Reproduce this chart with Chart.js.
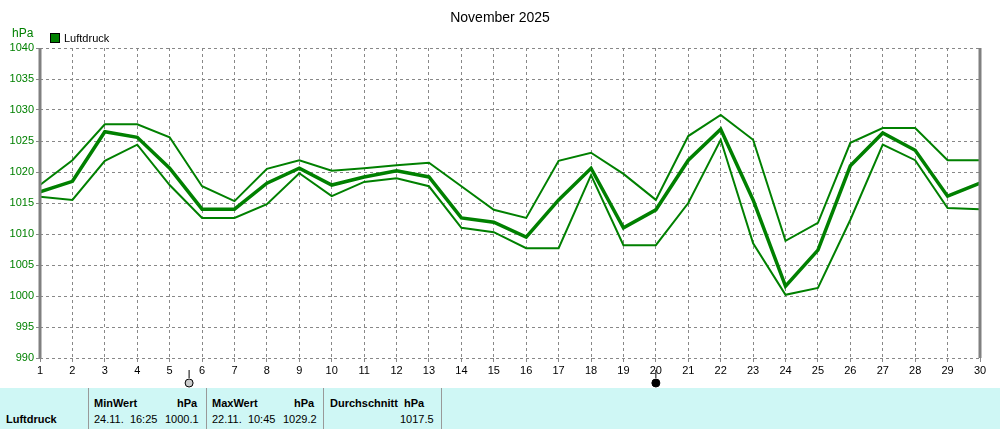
<!DOCTYPE html><html><head><meta charset="utf-8">
<script src="https://cdn.jsdelivr.net/npm/chart.js@4"></script>
<style>
body{margin:0;width:1000px;height:429px;background:#fff;font-family:"Liberation Sans",Arial,sans-serif;overflow:hidden}
#wrap{position:relative;width:1000px;height:388px}
#tbl{position:absolute;left:0;top:388px;width:1000px;height:41px;background:#cff7f5;font-size:11px}
.c{position:absolute;top:0;height:41px;border-right:1px solid #999}
.c b{position:absolute;top:9px}
.c span{position:absolute;top:25px}
</style></head><body>
<div id="wrap"><canvas id="ch" width="1000" height="388"></canvas></div>
<div id="tbl">
<div class="c" style="left:0;width:88px"><b style="left:6px;top:25px">Luftdruck</b></div>
<div class="c" style="left:89px;width:117px"><b style="left:5px">MinWert</b><b style="left:88px">hPa</b><span style="left:5px">24.11.&nbsp; 16:25</span><span style="left:76px">1000.1</span></div>
<div class="c" style="left:207px;width:116px"><b style="left:5px">MaxWert</b><b style="left:87px">hPa</b><span style="left:5px">22.11.&nbsp; 10:45</span><span style="left:76px">1029.2</span></div>
<div class="c" style="left:324px;width:117px"><b style="left:6px">Durchschnitt&nbsp; hPa</b><span style="left:76px">1017.5</span></div>
</div>
<script>
const days=[1,2,3,4,5,6,7,8,9,10,11,12,13,14,15,16,17,18,19,20,21,22,23,24,25,26,27,28,29,30];
const maxVals=[1017.9,1021.9,1027.7,1027.7,1025.6,1017.7,1015.3,1020.5,1021.9,1020.2,1020.6,1021.1,1021.5,1017.7,1013.9,1012.6,1021.8,1023.1,1019.7,1015.5,1025.8,1029.2,1025.2,1008.9,1011.8,1024.7,1027.1,1027.1,1021.9,1021.9];
const avgVals=[1016.8,1018.5,1026.5,1025.6,1020.6,1014.0,1014.0,1018.2,1020.6,1017.9,1019.2,1020.2,1019.2,1012.6,1011.9,1009.5,1015.5,1020.6,1011.0,1013.9,1021.9,1026.9,1015.5,1001.6,1007.4,1021.0,1026.3,1023.5,1016.1,1018.2];
const minVals=[1016.0,1015.5,1021.8,1024.4,1017.9,1012.6,1012.6,1014.8,1019.8,1016.1,1018.4,1019.0,1017.7,1011.0,1010.3,1007.7,1007.7,1019.5,1008.2,1008.2,1015.0,1025.2,1008.5,1000.2,1001.3,1012.3,1024.4,1021.9,1014.2,1014.0];
const moonDays=[5.6,20.0];
const mk=(v,w)=>({data:days.map((d,i)=>({x:d,y:v[i]})),borderColor:'#008000',borderWidth:w,pointRadius:0,fill:false,tension:0});
const extra={id:'extra',afterDraw(c){const x=c.scales.x,y=c.scales.y,g=c.ctx;g.save();
g.fillStyle='#000';g.font='14px "Liberation Sans"';g.textAlign='center';g.fillText('November 2025',500,22);
g.fillStyle='#008000';g.font='12px "Liberation Sans"';g.textAlign='left';g.fillText('hPa',12,37);
g.fillStyle='#008000';g.fillRect(50,33,10,10);g.strokeStyle='#000';g.lineWidth=1;g.strokeRect(50.5,33.5,9,9);
g.fillStyle='#000';g.font='11px "Liberation Sans"';g.fillText('Luftdruck',64,42);
g.strokeStyle='#808080';g.lineWidth=3;g.beginPath();g.moveTo(x.left,y.top);g.lineTo(x.left,y.bottom);g.moveTo(x.right,y.top);g.lineTo(x.right,y.bottom);g.stroke();
moonDays.forEach((d,i)=>{const px=x.getPixelForValue(d);g.strokeStyle='#000';g.lineWidth=1;g.beginPath();g.moveTo(px,y.bottom+12);g.lineTo(px,y.bottom+20);g.stroke();
g.beginPath();g.arc(px,y.bottom+25,4,0,Math.PI*2);g.fillStyle=i==0?'#ccc':'#000';g.fill();g.stroke();});
g.restore();}};
new Chart(document.getElementById('ch'),{type:'line',data:{datasets:[mk(maxVals,2),mk(minVals,2),mk(avgVals,3.5)]},
options:{responsive:false,animation:false,events:[],layout:{padding:{left:0,right:20,top:48,bottom:0}},
plugins:{legend:{display:false},tooltip:{enabled:false}},
scales:{x:{type:'linear',min:1,max:30,afterFit(s){s.height=30},grid:{color:'#888',drawTicks:true,tickLength:4,tickColor:'#888'},border:{dash:[3,3],display:false},ticks:{stepSize:1,color:'#000',font:{size:11,family:'Liberation Sans'},padding:2,callback:v=>String(v)}},
y:{min:990,max:1040,afterFit(s){s.width=40},grid:{color:'#888',tickLength:4,tickColor:'#888'},border:{dash:[3,3],display:false},ticks:{stepSize:5,color:'#008000',font:{size:11,family:'Liberation Sans'},padding:2,callback:v=>String(v)}}}},
plugins:[extra]});
</script></body></html>
